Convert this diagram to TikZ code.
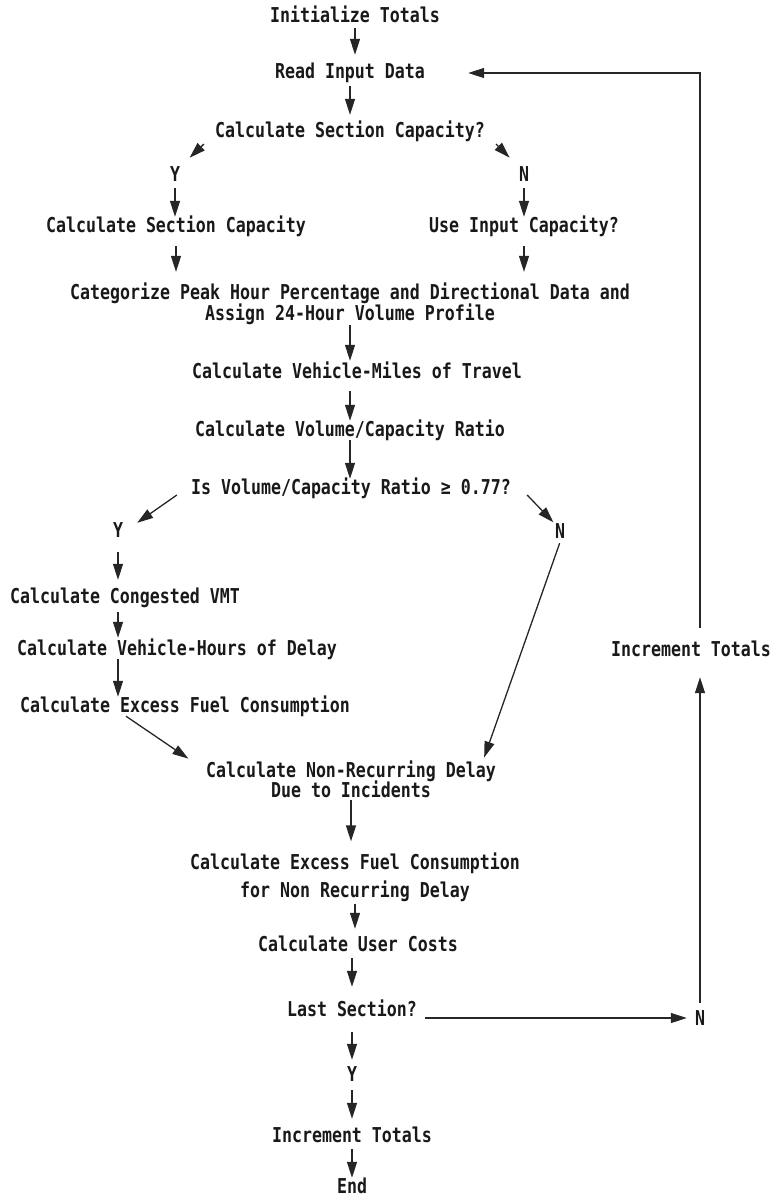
\documentclass[tikz,border=0pt]{standalone}
\usepackage{fontspec}
\usepackage{tikz}
\usetikzlibrary{positioning,arrows.meta}
\newfontfamily\flowfont{DejaVu Sans Mono}[FakeStretch=0.81]

\begin{document}
\begin{tikzpicture}[
  x=1pt, y=-1pt,
  arrow/.style={-{Triangle[length=16pt,width=10pt]}, line width=1.3pt, draw=black!85},
  txt/.style={inner sep=0pt, text height=14pt, text depth=4pt, text=black!90},
  twoline/.style={inner sep=0pt, align=center, text=black!90},
  every node/.style={font=\flowfont\bfseries\fontsize{20.5}{21}\selectfont}
]
\useasboundingbox (0,0) rectangle (773,1197);

%% ── Main column ──────────────────────────────────────────────────────
\node[txt] (init)  at (355,17)  {Initialize Totals};
\node[txt] (read)  at (350,73)  {Read Input Data};
\node[txt] (calcq) at (350,132) {Calculate Section Capacity?};

%% ── First branch ─────────────────────────────────────────────────────
\node[txt] (yA)   at (175,176) {Y};
\node[txt] (nA)   at (524,176) {N};
\node[txt] (calc) at (176,227) {Calculate Section Capacity};
\node[txt] (useq) at (524,227) {Use Input Capacity?};

%% ── Back to the main column ──────────────────────────────────────────
\node[twoline] (cat) at (350,304)
    {Categorize Peak Hour Percentage and Directional Data and\\Assign 24-Hour Volume Profile};
\node[txt] (vmt)  at (357,373) {Calculate Vehicle-Miles of Travel};
\node[txt] (vcr)  at (350,431) {Calculate Volume/Capacity Ratio};
\node[txt] (isvc) at (351,489) {Is Volume/Capacity Ratio ≥ 0.77?};

%% ── Congested branch ─────────────────────────────────────────────────
\node[txt] (yB)   at (118,532) {Y};
\node[txt] (nB)   at (560,533) {N};
\node[txt] (cong) at (125,598) {Calculate Congested VMT};
\node[txt] (vhd)  at (177,650) {Calculate Vehicle-Hours of Delay};
\node[txt] (efc)  at (185,707) {Calculate Excess Fuel Consumption};

%% ── Incidents and costs ──────────────────────────────────────────────
\node[twoline] (nrd) at (351,779)
    {Calculate Non-Recurring Delay\\[-1pt]Due to Incidents};
\node[twoline] (efn) at (355,877)
    {Calculate Excess Fuel Consumption\\[7pt]for Non Recurring Delay};
\node[txt] (cost) at (358,946)  {Calculate User Costs};
\node[txt] (last) at (352,1011) {Last Section?};
\node[txt] (yC)   at (352,1076) {Y};
\node[txt] (inc)  at (352,1137) {Increment Totals};
\node[txt] (fin)  at (352,1188) {End};

%% ── Loop side ────────────────────────────────────────────────────────
\node[txt] (nC)   at (700,1020) {N};
\node[txt] (incR) at (691,651)  {Increment Totals};

%% ── Main column arrows ───────────────────────────────────────────────
\draw[arrow, shorten <=2pt, shorten >=9pt] (init.south) -- (init.south |- read.north);
\draw[arrow, shorten <=4pt, shorten >=8pt] (read.south) -- (read.south |- calcq.north);
\draw[arrow, shorten <=4pt, shorten >=13pt]
    ([xshift=-8pt]calcq.south west) -- (yA.north east);
\draw[arrow, shorten <=4pt, shorten >=13pt]
    ([xshift=8pt]calcq.south east) -- (nA.north west);
\draw[arrow, shorten <=3pt, shorten >=1pt] (yA.south) -- (yA.south |- calc.north);
\draw[arrow, shorten <=3pt, shorten >=1pt] (nA.south) -- (nA.south |- useq.north);
\draw[arrow, shorten <=10pt, shorten >=11pt] (calc.south) -- (calc.south |- cat.north);
\draw[arrow, shorten <=10pt, shorten >=11pt] (useq.south) -- (useq.south |- cat.north);
\draw[arrow, shorten >=3pt] (cat.south) -- (cat.south |- vmt.north);
\draw[arrow, shorten <=9pt, shorten >=1pt] (vmt.south -| vcr.north) -- (vcr.north);
\draw[arrow, shorten >=1pt] (vcr.south) -- (vcr.south |- isvc.north);

%% ── Congested branch arrows ──────────────────────────────────────────
\draw[arrow] ([xshift=-14pt,yshift=-6pt]isvc.west) -- ([xshift=14pt]yB.north east);
\draw[arrow, shorten >=2pt] ([xshift=16pt,yshift=-6pt]isvc.east) -- (nB.north west);
\draw[arrow, shorten <=11pt, shorten >=9pt] (yB.south) -- (yB.south |- cong.north);
\draw[arrow, shorten <=5pt, shorten >=3pt] (yB |- cong.south) -- (yB |- vhd.north);
\draw[arrow, shorten >=1pt] (yB |- vhd.south) -- (yB |- efc.north);
\draw[arrow, shorten >=3pt] ([xshift=8pt]yB |- efc.south) -- ([xshift=-15pt]nrd.north west);
\draw[arrow, shorten <=1pt, shorten >=3pt] (nB.south) -- ([xshift=-13pt]nrd.north east);

%% ── Lower column arrows ──────────────────────────────────────────────
\draw[arrow, shorten <=2pt, shorten >=11pt] (nrd.south) -- (nrd.south |- efn.north);
\draw[arrow, shorten <=2pt, shorten >=8pt] (efn.south) -- (efn.south |- cost.north);
\draw[arrow, shorten <=3pt, shorten >=15pt] (cost.south -| last.north) -- (last.north);
\draw[arrow, shorten <=12pt, shorten >=7pt] (last.south) -- (last.south |- yC.north);
\draw[arrow, shorten <=5pt, shorten >=9pt] (yC.south) -- (yC.south |- inc.north);
\draw[arrow, shorten <=3pt, shorten >=1pt] (inc.south) -- (inc.south |- fin.north);

%% ── Loop back to the input ───────────────────────────────────────────
\draw[arrow, shorten <=8pt, shorten >=8pt]
    ([yshift=-7pt]last.east) -- ([yshift=-7pt]last.east -| nC.west);
\draw[arrow, shorten <=8pt, shorten >=17pt] (nC.north) -- (nC.north |- incR.south);
\draw[arrow, shorten <=14pt, shorten >=43pt] (nC |- incR.north) |- (read.east);

\end{tikzpicture}
\end{document}
